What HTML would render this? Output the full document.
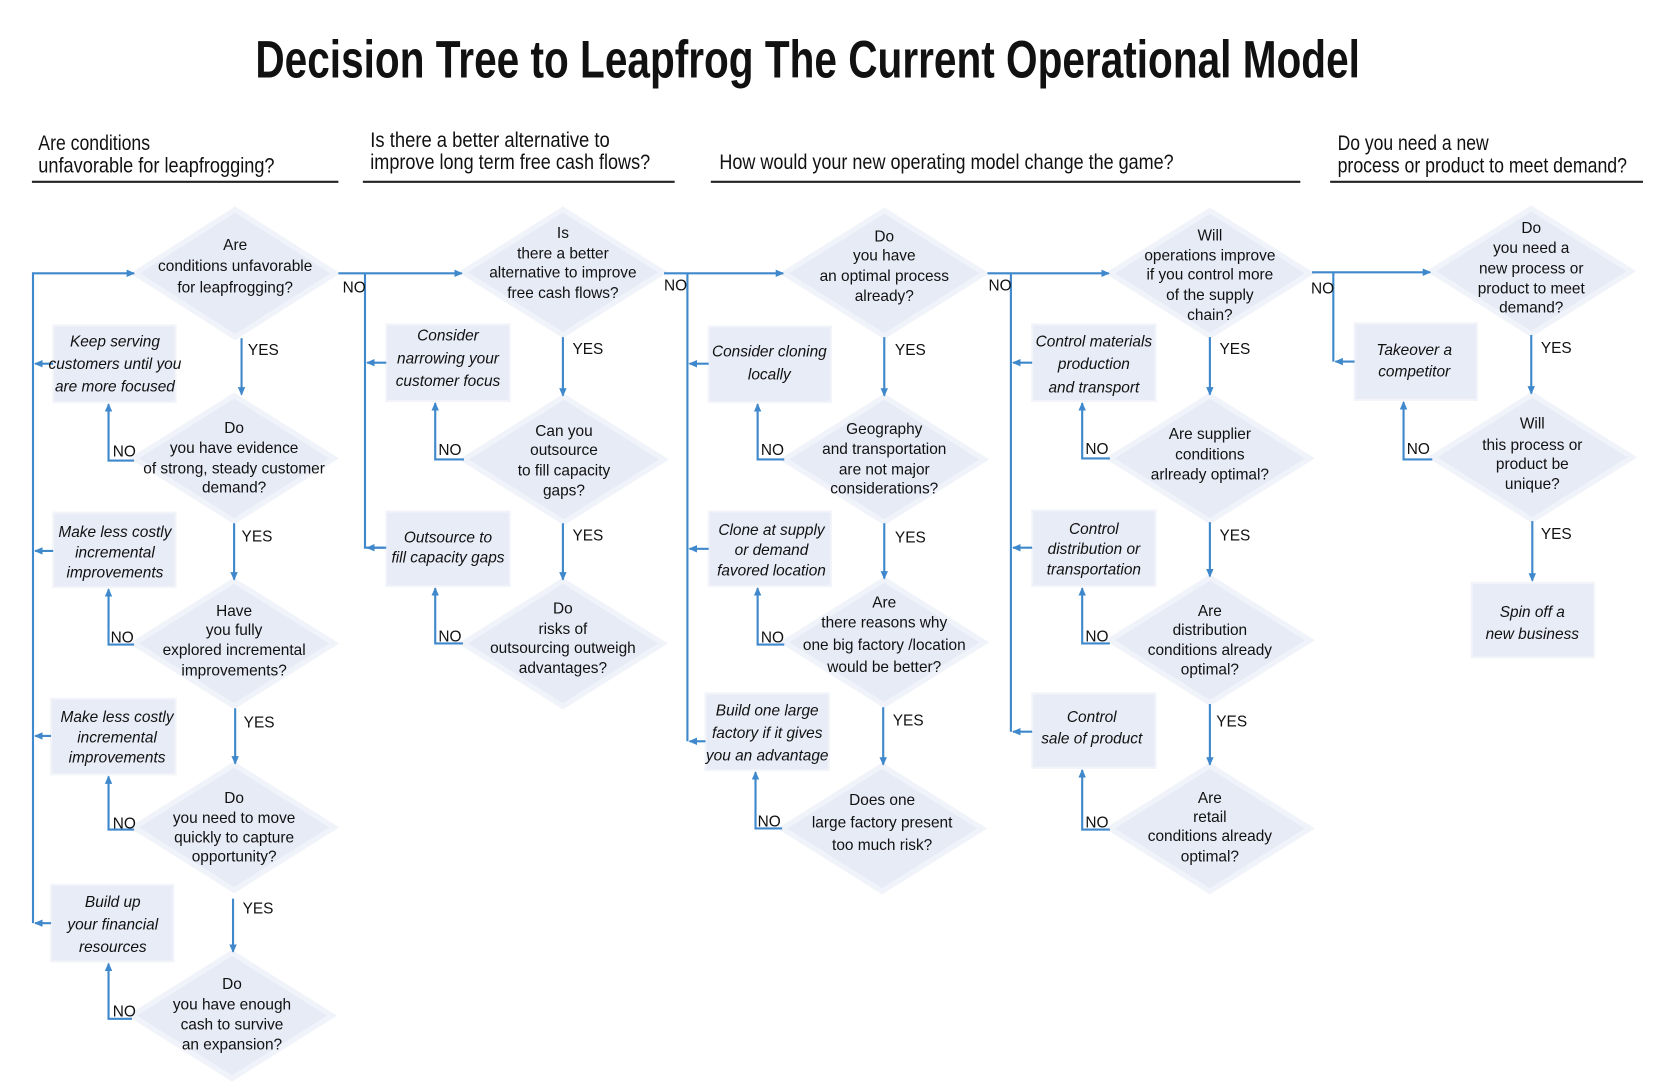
<!DOCTYPE html>
<html><head><meta charset="utf-8"><style>
html,body{margin:0;padding:0;background:#fff;}
svg{display:block;}
.t{font-family:"Liberation Sans Narrow","Liberation Sans",sans-serif;fill:#111;}
.d{fill:#e7ebf6;stroke:#f1f3fa;stroke-width:5;}
.di{fill:none;stroke:#fafbfe;stroke-width:1.5;}
.b{fill:#e8ecf6;stroke:#f2f4fa;stroke-width:2;}
.l{fill:none;stroke:#3f88cb;stroke-width:2;}
.q{font-size:14.5px;text-anchor:middle;}
.i{font-size:14.5px;text-anchor:middle;font-style:italic;}
.y{font-size:14.5px;}
</style></head><body>
<svg width="1660" height="1088" viewBox="0 0 1560 1023" preserveAspectRatio="none" xmlns="http://www.w3.org/2000/svg">
<defs><marker id="a" markerWidth="8" markerHeight="8" refX="7" refY="4" orient="auto" markerUnits="userSpaceOnUse"><path d="M0,0.5 L8,4 L0,7.5 z" fill="#3f88cb"/></marker></defs>

<text class="t" x="240" y="73" font-size="50" font-weight="bold" textLength="1038" lengthAdjust="spacingAndGlyphs">Decision Tree to Leapfrog The Current Operational Model</text>

<g class="t" font-size="20">
<text x="36" y="141" textLength="105" lengthAdjust="spacingAndGlyphs">Are conditions</text>
<text x="36" y="162" textLength="222" lengthAdjust="spacingAndGlyphs">unfavorable for leapfrogging?</text>
<text x="348" y="138" textLength="225" lengthAdjust="spacingAndGlyphs">Is there a better alternative to</text>
<text x="348" y="159" textLength="263" lengthAdjust="spacingAndGlyphs">improve long term free cash flows?</text>
<text x="676" y="159" textLength="427" lengthAdjust="spacingAndGlyphs">How would your new operating model change the game?</text>
<text x="1257" y="141" textLength="142" lengthAdjust="spacingAndGlyphs">Do you need a new</text>
<text x="1257" y="162" textLength="272" lengthAdjust="spacingAndGlyphs">process or product to meet demand?</text>
</g>
<g stroke="#222" stroke-width="2">
<line x1="30" y1="171" x2="318" y2="171"/><line x1="341" y1="171" x2="634" y2="171"/>
<line x1="668" y1="171" x2="1222" y2="171"/><line x1="1250" y1="171" x2="1544" y2="171"/>
</g>

<!-- diamonds -->
<g>
<polygon class="d" points="221,197 315,257 221,317 127,257"/>
<polygon class="d" points="220,372 314,431 220,490 126,431"/>
<polygon class="d" points="220,546 314,605 220,664 126,605"/>
<polygon class="d" points="220,719 314,778 220,837 126,778"/>
<polygon class="d" points="218,896 312,955 218,1014 124,955"/>
<polygon class="d" points="529,197 623,256 529,315 435,256"/>
<polygon class="d" points="530,373 624,432 530,491 436,432"/>
<polygon class="d" points="529,546 623,605 529,664 435,605"/>
<polygon class="d" points="831,198 925,257 831,316 737,257"/>
<polygon class="d" points="831,373 925,432 831,491 737,432"/>
<polygon class="d" points="831,545 925,604 831,663 737,604"/>
<polygon class="d" points="829,720 923,779 829,838 735,779"/>
<polygon class="d" points="1137,198 1231,257 1137,316 1043,257"/>
<polygon class="d" points="1137,372 1231,431 1137,490 1043,431"/>
<polygon class="d" points="1137,543 1231,602 1137,661 1043,602"/>
<polygon class="d" points="1137,720 1231,779 1137,838 1043,779"/>
<polygon class="d" points="1439,196 1533,255 1439,314 1345,255"/>
<polygon class="d" points="1440,371 1534,430 1440,489 1346,430"/>
</g>

<!-- boxes -->
<g>
<rect class="b" x="50" y="306" width="115" height="72"/>
<rect class="b" x="50" y="482" width="115" height="70"/>
<rect class="b" x="48" y="657" width="117" height="71"/>
<rect class="b" x="48" y="832" width="115" height="72"/>
<rect class="b" x="363" y="305" width="116" height="72"/>
<rect class="b" x="363" y="481" width="116" height="70"/>
<rect class="b" x="666" y="307" width="115" height="71"/>
<rect class="b" x="666" y="481" width="115" height="70"/>
<rect class="b" x="663" y="652" width="116" height="72"/>
<rect class="b" x="970" y="305" width="116" height="72"/>
<rect class="b" x="970" y="480" width="116" height="71"/>
<rect class="b" x="970" y="652" width="116" height="70"/>
<rect class="b" x="1273" y="304" width="115" height="72"/>
<rect class="b" x="1383" y="548" width="115" height="70"/>
</g>

<!-- connectors -->
<g class="l">
<!-- column 1 trunk -->
<polyline points="31,868 31,257 126,257" marker-end="url(#a)"/>
<line x1="50" y1="342" x2="33" y2="342" marker-end="url(#a)"/>
<line x1="50" y1="518" x2="33" y2="518" marker-end="url(#a)"/>
<line x1="48" y1="692" x2="33" y2="692" marker-end="url(#a)"/>
<line x1="48" y1="868" x2="33" y2="868" marker-end="url(#a)"/>
<line x1="227" y1="318" x2="227" y2="371" marker-end="url(#a)"/>
<line x1="220" y1="492" x2="220" y2="545" marker-end="url(#a)"/>
<line x1="221" y1="666" x2="221" y2="718" marker-end="url(#a)"/>
<line x1="219" y1="845" x2="219" y2="895" marker-end="url(#a)"/>
<polyline points="126,433 102,433 102,380" marker-end="url(#a)"/>
<polyline points="126,606 102,606 102,554" marker-end="url(#a)"/>
<polyline points="126,780 102,780 102,730" marker-end="url(#a)"/>
<polyline points="124,958 102,958 102,906" marker-end="url(#a)"/>
<!-- column 2 -->
<polyline points="318,257 434,257" marker-end="url(#a)"/>
<polyline points="343,257 343,515 361,515"/>
<line x1="363" y1="341" x2="345" y2="341" marker-end="url(#a)"/>
<line x1="363" y1="515" x2="345" y2="515" marker-end="url(#a)"/>
<line x1="529" y1="317" x2="529" y2="372" marker-end="url(#a)"/>
<line x1="529" y1="492" x2="529" y2="545" marker-end="url(#a)"/>
<polyline points="436,432 409,432 409,379" marker-end="url(#a)"/>
<polyline points="435,605 409,605 409,553" marker-end="url(#a)"/>
<!-- column 3 -->
<polyline points="624,257 736,257" marker-end="url(#a)"/>
<polyline points="646,257 646,697"/>
<line x1="666" y1="342" x2="648" y2="342" marker-end="url(#a)"/>
<line x1="666" y1="516" x2="648" y2="516" marker-end="url(#a)"/>
<line x1="663" y1="697" x2="648" y2="697" marker-end="url(#a)"/>
<line x1="831" y1="317" x2="831" y2="372" marker-end="url(#a)"/>
<line x1="831" y1="492" x2="831" y2="544" marker-end="url(#a)"/>
<line x1="830" y1="665" x2="830" y2="719" marker-end="url(#a)"/>
<polyline points="737,432 712,432 712,380" marker-end="url(#a)"/>
<polyline points="737,606 712,606 712,553" marker-end="url(#a)"/>
<polyline points="735,779 710,779 710,726" marker-end="url(#a)"/>
<!-- column 4 -->
<polyline points="928,257 1042,257" marker-end="url(#a)"/>
<polyline points="950,257 950,688"/>
<line x1="970" y1="341" x2="952" y2="341" marker-end="url(#a)"/>
<line x1="970" y1="515" x2="952" y2="515" marker-end="url(#a)"/>
<line x1="970" y1="688" x2="952" y2="688" marker-end="url(#a)"/>
<line x1="1137" y1="317" x2="1137" y2="371" marker-end="url(#a)"/>
<line x1="1137" y1="491" x2="1137" y2="542" marker-end="url(#a)"/>
<line x1="1137" y1="662" x2="1137" y2="719" marker-end="url(#a)"/>
<polyline points="1043,431 1017,431 1017,379" marker-end="url(#a)"/>
<polyline points="1043,605 1017,605 1017,553" marker-end="url(#a)"/>
<polyline points="1043,780 1017,780 1017,724" marker-end="url(#a)"/>
<!-- column 5 -->
<polyline points="1233,256 1344,256" marker-end="url(#a)"/>
<polyline points="1253,256 1253,340"/>
<line x1="1273" y1="340" x2="1255" y2="340" marker-end="url(#a)"/>
<line x1="1439" y1="315" x2="1439" y2="370" marker-end="url(#a)"/>
<line x1="1440" y1="490" x2="1440" y2="546" marker-end="url(#a)"/>
<polyline points="1346,432 1319,432 1319,378" marker-end="url(#a)"/>
</g>

<!-- diamond text -->
<g class="t q">
<text x="221" y="235">Are</text><text x="221" y="255">conditions unfavorable</text><text x="221" y="275">for leapfrogging?</text>
<text x="220" y="407">Do</text><text x="220" y="426">you have evidence</text><text x="220" y="445">of strong, steady customer</text><text x="220" y="463">demand?</text>
<text x="220" y="579">Have</text><text x="220" y="597">you fully</text><text x="220" y="616">explored incremental</text><text x="220" y="635">improvements?</text>
<text x="220" y="755">Do</text><text x="220" y="774">you need to move</text><text x="220" y="792">quickly to capture</text><text x="220" y="810">opportunity?</text>
<text x="218" y="930">Do</text><text x="218" y="949">you have enough</text><text x="218" y="968">cash to survive</text><text x="218" y="987">an expansion?</text>
<text x="529" y="224">Is</text><text x="529" y="243">there a better</text><text x="529" y="261">alternative to improve</text><text x="529" y="280">free cash flows?</text>
<text x="530" y="410">Can you</text><text x="530" y="428">outsource</text><text x="530" y="447">to fill capacity</text><text x="530" y="466">gaps?</text>
<text x="529" y="577">Do</text><text x="529" y="596">risks of</text><text x="529" y="614">outsourcing outweigh</text><text x="529" y="633">advantages?</text>
<text x="831" y="227">Do</text><text x="831" y="245">you have</text><text x="831" y="264">an optimal process</text><text x="831" y="283">already?</text>
<text x="831" y="408">Geography</text><text x="831" y="427">and transportation</text><text x="831" y="446">are not major</text><text x="831" y="464">considerations?</text>
<text x="831" y="571">Are</text><text x="831" y="590">there reasons why</text><text x="831" y="611">one big factory /location</text><text x="831" y="632">would be better?</text>
<text x="829" y="757">Does one</text><text x="829" y="778">large factory present</text><text x="829" y="799">too much risk?</text>
<text x="1137" y="226">Will</text><text x="1137" y="245">operations improve</text><text x="1137" y="263">if you control more</text><text x="1137" y="282">of the supply</text><text x="1137" y="301">chain?</text>
<text x="1137" y="413">Are supplier</text><text x="1137" y="432">conditions</text><text x="1137" y="451">arlready optimal?</text>
<text x="1137" y="579">Are</text><text x="1137" y="597">distribution</text><text x="1137" y="616">conditions already</text><text x="1137" y="634">optimal?</text>
<text x="1137" y="755">Are</text><text x="1137" y="773">retail</text><text x="1137" y="791">conditions already</text><text x="1137" y="810">optimal?</text>
<text x="1439" y="219">Do</text><text x="1439" y="238">you need a</text><text x="1439" y="257">new process or</text><text x="1439" y="276">product to meet</text><text x="1439" y="294">demand?</text>
<text x="1440" y="403">Will</text><text x="1440" y="423">this process or</text><text x="1440" y="441">product be</text><text x="1440" y="460">unique?</text>
</g>

<!-- box text -->
<g class="t i">
<text x="108" y="326">Keep serving</text><text x="108" y="347">customers until you</text><text x="108" y="368">are more focused</text>
<text x="108" y="505">Make less costly</text><text x="108" y="524">incremental</text><text x="108" y="543">improvements</text>
<text x="110" y="679">Make less costly</text><text x="110" y="698">incremental</text><text x="110" y="717">improvements</text>
<text x="106" y="853">Build up</text><text x="106" y="874">your financial</text><text x="106" y="895">resources</text>
<text x="421" y="320">Consider</text><text x="421" y="342">narrowing your</text><text x="421" y="363">customer focus</text>
<text x="421" y="510">Outsource to</text><text x="421" y="529">fill capacity gaps</text>
<text x="723" y="335">Consider cloning</text><text x="723" y="357">locally</text>
<text x="725" y="503">Clone at supply</text><text x="725" y="522">or demand</text><text x="725" y="541">favored location</text>
<text x="721" y="673">Build one large</text><text x="721" y="694">factory if it gives</text><text x="721" y="715">you an advantage</text>
<text x="1028" y="326">Control materials</text><text x="1028" y="347">production</text><text x="1028" y="369">and transport</text>
<text x="1028" y="502">Control</text><text x="1028" y="521">distribution or</text><text x="1028" y="540">transportation</text>
<text x="1026" y="679">Control</text><text x="1026" y="699">sale of product</text>
<text x="1329" y="334">Takeover a</text><text x="1329" y="354">competitor</text>
<text x="1440" y="580">Spin off a</text><text x="1440" y="601">new business</text>
</g>

<!-- YES / NO labels -->
<g class="t y">
<text x="233" y="334">YES</text><text x="227" y="509">YES</text><text x="229" y="684">YES</text><text x="228" y="859">YES</text>
<text x="538" y="333">YES</text><text x="538" y="508">YES</text>
<text x="841" y="334">YES</text><text x="841" y="510">YES</text><text x="839" y="682">YES</text>
<text x="1146" y="333">YES</text><text x="1146" y="508">YES</text><text x="1143" y="683">YES</text>
<text x="1448" y="332">YES</text><text x="1448" y="507">YES</text>
<text x="106" y="429">NO</text><text x="104" y="604">NO</text><text x="106" y="779">NO</text><text x="106" y="956">NO</text>
<text x="412" y="428">NO</text><text x="412" y="603">NO</text>
<text x="715" y="428">NO</text><text x="715" y="604">NO</text><text x="712" y="777">NO</text>
<text x="1020" y="427">NO</text><text x="1020" y="603">NO</text><text x="1020" y="778">NO</text>
<text x="1322" y="427">NO</text>
<text x="322" y="275">NO</text><text x="624" y="273">NO</text><text x="929" y="273">NO</text><text x="1232" y="276">NO</text>
</g>
</svg>
</body></html>
